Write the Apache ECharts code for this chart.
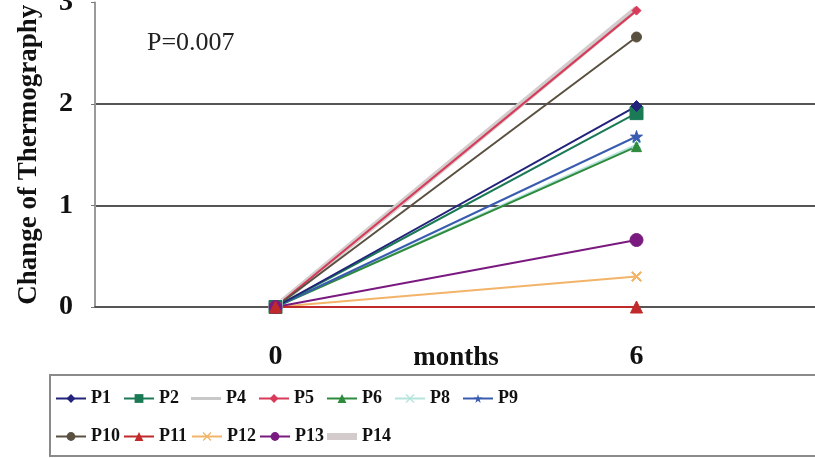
<!DOCTYPE html>
<html>
<head>
<meta charset="utf-8">
<script src="https://cdn.jsdelivr.net/npm/echarts@6/dist/echarts.min.js"></script>
<style>
  html, body { margin: 0; padding: 0; background: #ffffff; }
  #chart { width: 815px; height: 458px; }
</style>
</head>
<body>
<div id="chart"></div>
<script>
// Follow-up time points (months)
const months = ['0', '6'];
const yTicks = [0, 1, 2, 3];

// Change of thermography per patient, baseline and 6 months
const P1  = [0, 1.98];
const P2  = [0, 1.91];
const P4  = [0, 2.93];
const P5  = [0, 2.92];
const P6  = [0, 1.58];
const P8  = [0, 1.6];
const P9  = [0, 1.68];
const P10 = [0, 2.66];
const P11 = [0, 0];
const P12 = [0, 0.3];
const P13 = [0, 0.66];
const P14 = [0, 2.94];

const pValueText = 'P=0.007';

const SERIF = '"Liberation Serif", "Times New Roman", "DejaVu Serif", serif';
const starPath = 'path://M50,0 L61,35 L98,35 L68,57 L79,91 L50,70 L21,91 L32,57 L2,35 L39,35 Z';
const crossPath = 'path://M0,10 L10,0 L50,40 L90,0 L100,10 L60,50 L100,90 L90,100 L50,60 L10,100 L0,90 L40,50 Z';

function lineSeries(name, data, color, symbol, size, width, extra) {
  return Object.assign({
    name: name,
    type: 'line',
    data: data,
    symbol: symbol,
    symbolSize: size,
    showSymbol: symbol !== 'none',
    lineStyle: { color: color, width: width },
    itemStyle: { color: color, borderColor: color },
    emphasis: { disabled: true },
    animation: false
  }, extra || {});
}

const series = [
  lineSeries('P14', [{ value: P14[0], symbol: 'emptyRect', symbolSize: 13, itemStyle: { color: '#ffffff', borderColor: '#a8b8b4', borderWidth: 2 } }, P14[1]], '#d4cccc', 'none', 0, 6, { showSymbol: true }),
  lineSeries('P4', P4, '#c8c8c8', 'none', 0, 2),
  lineSeries('P5', P5, '#d83a5a', 'diamond', 9, 2),
  lineSeries('P10', P10, '#5a5040', 'circle', 10, 2),
  lineSeries('P8', P8, '#b4e4dc', crossPath, 9, 2),
  lineSeries('P6', P6, '#2e8a3c', 'triangle', 10, 2),
  lineSeries('P9', P9, '#3a5cb0', starPath, 12, 2),
  lineSeries('P2', P2, '#1a7a55', 'rect', 13, 2),
  lineSeries('P1', P1, '#22237a', 'diamond', 11, 2),
  lineSeries('P12', P12, '#f2b468', crossPath, 10, 2),
  lineSeries('P13', P13, '#7a1a80', 'circle', 13, 2),
  lineSeries('P11', P11, '#c02a2a', 'triangle', 12, 2)
];

// Plain-line legend icons for the series drawn without markers
const thinBar = 'path://M0,0 L30,0 L30,3 L0,3 Z';
const thickBar = 'path://M0,0 L30,0 L30,7 L0,7 Z';

const legendNames = ['P1', 'P2', 'P4', 'P5', 'P6', 'P8', 'P9', 'P10', 'P11', 'P12', 'P13', 'P14'];
const legendData = legendNames.map(function (n) {
  if (n === 'P4') return { name: n, icon: thinBar, itemStyle: { color: '#c8c8c8' } };
  if (n === 'P14') return { name: n, icon: thickBar, itemStyle: { color: '#d4cccc' } };
  return { name: n };
});

const chart = echarts.init(document.getElementById('chart'), null, { renderer: 'canvas' });

chart.setOption({
  backgroundColor: '#ffffff',
  animation: false,
  grid: { left: 95, right: -2, top: 2.5, bottom: 151, containLabel: false, outerBoundsMode: 'none' },
  xAxis: {
    type: 'category',
    data: months,
    boundaryGap: true,
    name: 'months',
    nameLocation: 'middle',
    nameGap: 38,
    nameMoveOverlap: false,
    nameTextStyle: { fontFamily: SERIF, fontWeight: 'bold', fontSize: 27, color: '#111' },
    axisLine: { show: true, lineStyle: { color: '#555555', width: 2 } },
    axisTick: { show: false },
    axisLabel: { margin: 36, fontFamily: SERIF, fontWeight: 'bold', fontSize: 28, color: '#111' },
    splitLine: { show: false }
  },
  yAxis: {
    type: 'value',
    min: yTicks[0],
    max: yTicks[yTicks.length - 1],
    interval: 1,
    name: 'Change of Thermography',
    nameLocation: 'middle',
    nameRotate: 90,
    nameGap: 52,
    nameMoveOverlap: false,
    nameTextStyle: { fontFamily: SERIF, fontWeight: 'bold', fontSize: 27, color: '#111' },
    axisLine: { show: true, lineStyle: { color: '#9a9a9a', width: 2 } },
    axisTick: { show: true, length: 4, lineStyle: { color: '#777' } },
    axisLabel: { margin: 22, fontFamily: SERIF, fontWeight: 'bold', fontSize: 28, color: '#111' },
    splitLine: { show: true, showMaxLine: false, lineStyle: { color: '#555555', width: 2 } }
  },
  legend: {
    data: legendData,
    left: 55,
    top: 381,
    width: 480,
    padding: 0,
    itemGap: 3,
    itemWidth: 30,
    itemHeight: 11,
    selectedMode: false,
    textStyle: {
      fontFamily: SERIF, fontWeight: 'bold', fontSize: 18, color: '#111',
      width: 29, overflow: 'none', lineHeight: 35
    }
  },
  graphic: [
    {
      type: 'rect',
      silent: true,
      z: -1,
      shape: { x: 50, y: 375, width: 800, height: 81 },
      style: { fill: '#ffffff', stroke: '#8a8a8a', lineWidth: 2 }
    },
    {
      type: 'text',
      left: 147,
      top: 30,
      style: { text: pValueText, fontFamily: SERIF, fontSize: 26, fill: '#222' }
    }
  ],
  series: series
});
</script>
</body>
</html>
